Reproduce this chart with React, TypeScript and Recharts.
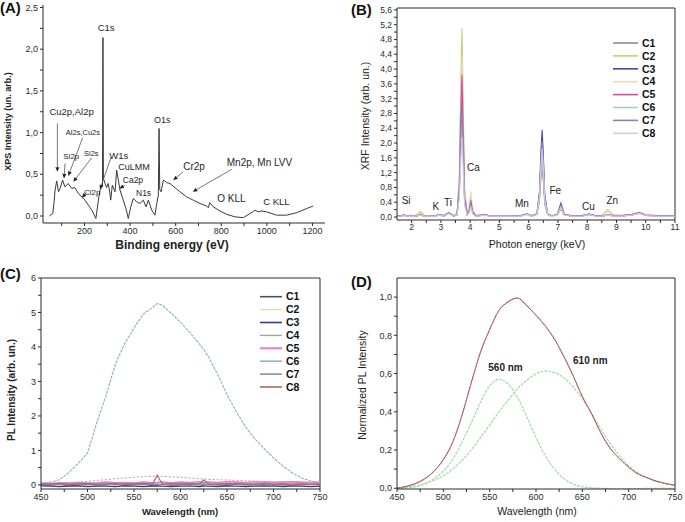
import React from 'react';
import { LineChart, Line, XAxis, YAxis, ReferenceLine, ReferenceDot } from 'recharts';

const FONT = '"Liberation Sans", Arial, Helvetica, sans-serif';
const INK = '#2b2b2b';

// ---------- (A) XPS survey ----------
const xpsEnergy = [
  46, 61, 66, 71, 78, 86, 93, 104, 114, 129, 144, 158, 173, 188, 202, 217, 232, 250, 261, 268,
  275, 279, 281, 283, 290, 297, 304, 310, 315, 322, 334, 341, 356, 370, 382, 392, 403, 414, 429, 443,
  458, 470, 480, 495, 509, 517, 524, 527, 530, 536, 546, 553, 560, 575, 597, 619, 648, 677, 707, 736,
  743, 750, 765, 794, 824, 860, 897, 926, 938, 948, 962, 977, 999, 1043, 1087, 1131, 1175, 1203,
];
const xpsIntensity = [
  0, 0.03, 0.15, 0.31, 0.42, 0.29, 0.33, 0.43, 0.35, 0.39, 0.33, 0.34, 0.27, 0.23, 0.19, 0.13, 0.07, -0.03, 0.19, 0.31,
  0.34, 0.36, 2.14, 0.45, 0.39, 0.34, 0.39, 0.3, 0.19, 0.37, 0.29, 0.55, 0.31, 0.19, 0.09, -0.03, 0.11, 0.21, 0.17, 0.15,
  0.19, 0.11, 0.19, 0.07, 0.01, 0.15, 0.25, 1.05, 0.32, 0.29, 0.43, 0.42, 0.4, 0.39, 0.34, 0.29, 0.23, 0.19, 0.15, 0.12,
  0.1, 0.16, 0.11, 0.06, 0.02, -0.01, -0.02, 0.03, 0.05, 0.07, 0.05, 0.06, 0.05, 0.01, 0.01, 0.04, 0.09, 0.12,
];
const xpsXTicks = [100, 200, 300, 400, 500, 600, 700, 800, 900, 1000, 1100, 1200];
const xpsYTicks = [0, 0.25, 0.5, 0.75, 1, 1.25, 1.5, 1.75, 2, 2.25, 2.5];
const xpsLabels = [
  { text: 'C1s', x: 258, y: 2.22, size: 9.5 },
  { text: 'Cu2p,Al2p', x: 46, y: 1.21, size: 9.5 },
  { text: 'Al2s,Cu2s', x: 118, y: 0.97, size: 7.5 },
  { text: 'Si2p', x: 107, y: 0.68, size: 8 },
  { text: 'Si2s', x: 198, y: 0.72, size: 7.5 },
  { text: 'W1s', x: 309, y: 0.68, size: 9.5 },
  { text: 'CuLMM', x: 348, y: 0.556, size: 9 },
  { text: 'Cl2p', x: 198, y: 0.25, size: 8 },
  { text: 'Ca2p', x: 368, y: 0.395, size: 8.5 },
  { text: 'N1s', x: 426, y: 0.24, size: 8.5 },
  { text: 'O1s', x: 505, y: 1.11, size: 9 },
  { text: 'Cr2p', x: 633, y: 0.55, size: 10 },
  { text: 'Mn2p, Mn LVV', x: 824, y: 0.6, size: 10 },
  { text: 'O KLL', x: 782, y: 0.17, size: 10 },
  { text: 'C KLL', x: 984, y: 0.13, size: 9.5 },
];
const xpsArrows = [
  { from: [81, 1.11], to: [81, 0.53] },
  { from: [192, 0.94], to: [129, 0.48] },
  { from: [115, 0.63], to: [110, 0.45] },
  { from: [232, 0.7], to: [151, 0.41] },
  { from: [210, 0.28], to: [188, 0.22] },
  { from: [316, 0.7], to: [268, 0.32] },
  { from: [378, 0.37], to: [353, 0.33] },
  { from: [633, 0.53], to: [589, 0.43] },
  { from: [846, 0.56], to: [675, 0.29] },
];

// ---------- (B) XRF ----------
const xrfEnergy = [
  1.5, 1.6, 1.73, 1.85, 1.95, 2.1, 2.31, 2.45, 2.6, 2.8,
  2.96, 3.1, 3.27, 3.42, 3.55, 3.63, 3.68, 3.72, 3.76, 3.81,
  3.9, 3.96, 4.02, 4.09, 4.2, 4.5, 4.7, 5.0, 5.4, 5.7,
  5.94, 6.1, 6.28, 6.37, 6.42, 6.46, 6.5, 6.55, 6.65, 6.8,
  6.98, 7.1, 7.22, 7.5, 7.8, 8.07, 8.3, 8.5, 8.7, 8.9,
  9.2, 9.5, 9.78, 10.0, 10.4, 11.0,
];
const xrfC1 = [
  0.03, 0.03, 0.06, 0.03, 0.05, 0.03, 0.06, 0.03, 0.02, 0.03,
  0.07, 0.03, 0.12, 0.04, 0.06, 0.9, 3.0, 4.1, 2.6, 0.6,
  0.08, 0.15, 0.4, 0.12, 0.03, 0.07, 0.02, 0.02, 0.02, 0.03,
  0.08, 0.03, 0.08, 0.6, 1.5, 1.95, 1.4, 0.5, 0.07, 0.03,
  0.07, 0.3, 0.06, 0.03, 0.03, 0.08, 0.03, 0.03, 0.05, 0.04,
  0.04, 0.06, 0.12, 0.05, 0.03, 0.03,
];
const xrfC2 = [
  0.04, 0.03, 0.05, 0.03, 0.04, 0.03, 0.15, 0.04, 0.03, 0.03,
  0.06, 0.04, 0.1, 0.04, 0.07, 1.1, 3.7, 5.1, 3.2, 0.75,
  0.09, 0.2, 0.55, 0.15, 0.04, 0.06, 0.03, 0.02, 0.02, 0.03,
  0.07, 0.03, 0.07, 0.5, 1.25, 1.6, 1.15, 0.4, 0.06, 0.03,
  0.06, 0.25, 0.05, 0.03, 0.03, 0.07, 0.04, 0.05, 0.2, 0.05,
  0.04, 0.06, 0.13, 0.05, 0.03, 0.03,
];
const xrfC3 = [
  0.02, 0.02, 0.05, 0.02, 0.04, 0.02, 0.05, 0.02, 0.02, 0.02,
  0.06, 0.02, 0.11, 0.03, 0.05, 0.7, 2.3, 3.2, 2.0, 0.5,
  0.06, 0.13, 0.35, 0.1, 0.02, 0.06, 0.02, 0.02, 0.02, 0.02,
  0.08, 0.02, 0.09, 0.7, 1.8, 2.35, 1.7, 0.6, 0.08, 0.03,
  0.08, 0.38, 0.07, 0.02, 0.02, 0.07, 0.03, 0.03, 0.05, 0.03,
  0.03, 0.05, 0.11, 0.04, 0.03, 0.02,
];
const xrfC4 = [
  0.03, 0.03, 0.05, 0.03, 0.04, 0.03, 0.1, 0.03, 0.03, 0.03,
  0.07, 0.03, 0.13, 0.04, 0.06, 0.95, 3.2, 4.35, 2.8, 0.65,
  0.1, 0.25, 0.7, 0.2, 0.04, 0.08, 0.03, 0.03, 0.02, 0.03,
  0.08, 0.03, 0.08, 0.55, 1.35, 1.75, 1.25, 0.45, 0.07, 0.03,
  0.07, 0.28, 0.06, 0.03, 0.03, 0.08, 0.03, 0.04, 0.15, 0.05,
  0.04, 0.06, 0.14, 0.05, 0.03, 0.03,
];
const xrfC5 = [
  0.03, 0.04, 0.05, 0.03, 0.05, 0.03, 0.06, 0.03, 0.03, 0.04,
  0.06, 0.04, 0.11, 0.04, 0.06, 0.85, 2.8, 3.85, 2.4, 0.55,
  0.08, 0.17, 0.45, 0.13, 0.04, 0.07, 0.03, 0.03, 0.03, 0.04,
  0.09, 0.04, 0.08, 0.45, 1.1, 1.4, 1.0, 0.35, 0.07, 0.04,
  0.06, 0.22, 0.06, 0.04, 0.04, 0.08, 0.04, 0.04, 0.06, 0.05,
  0.05, 0.07, 0.12, 0.06, 0.04, 0.04,
];
const xrfC6 = [
  0.02, 0.02, 0.04, 0.02, 0.03, 0.02, 0.05, 0.02, 0.02, 0.02,
  0.05, 0.02, 0.1, 0.03, 0.05, 0.6, 1.95, 2.7, 1.7, 0.4,
  0.06, 0.12, 0.3, 0.09, 0.02, 0.05, 0.02, 0.02, 0.02, 0.02,
  0.07, 0.02, 0.07, 0.5, 1.15, 1.5, 1.1, 0.38, 0.06, 0.02,
  0.06, 0.24, 0.05, 0.02, 0.02, 0.06, 0.02, 0.03, 0.05, 0.03,
  0.03, 0.05, 0.1, 0.04, 0.02, 0.02,
];
const xrfC7 = [
  0.03, 0.02, 0.05, 0.02, 0.04, 0.02, 0.05, 0.03, 0.02, 0.03,
  0.06, 0.03, 0.12, 0.03, 0.05, 0.65, 2.15, 3.0, 1.9, 0.45,
  0.07, 0.14, 0.38, 0.11, 0.03, 0.06, 0.02, 0.02, 0.02, 0.03,
  0.08, 0.03, 0.08, 0.6, 1.55, 2.05, 1.5, 0.52, 0.07, 0.03,
  0.07, 0.32, 0.06, 0.03, 0.03, 0.08, 0.03, 0.03, 0.05, 0.04,
  0.04, 0.05, 0.11, 0.05, 0.03, 0.03,
];
const xrfC8 = [
  0.02, 0.02, 0.04, 0.02, 0.03, 0.02, 0.05, 0.02, 0.02, 0.02,
  0.05, 0.02, 0.09, 0.03, 0.04, 0.5, 1.55, 2.15, 1.35, 0.32,
  0.05, 0.11, 0.28, 0.08, 0.02, 0.05, 0.02, 0.02, 0.02, 0.02,
  0.07, 0.02, 0.07, 0.55, 1.4, 1.85, 1.35, 0.47, 0.06, 0.02,
  0.06, 0.27, 0.05, 0.02, 0.02, 0.07, 0.02, 0.03, 0.05, 0.03,
  0.03, 0.05, 0.1, 0.04, 0.02, 0.02,
];
const xrfSeries = [
  { key: 'C1', values: xrfC1, color: '#8c8c8c' },
  { key: 'C2', values: xrfC2, color: '#c8cc78' },
  { key: 'C3', values: xrfC3, color: '#4a4a98' },
  { key: 'C4', values: xrfC4, color: '#e6deb0' },
  { key: 'C5', values: xrfC5, color: '#d84aa8' },
  { key: 'C6', values: xrfC6, color: '#a8d0b8' },
  { key: 'C7', values: xrfC7, color: '#8a84aa' },
  { key: 'C8', values: xrfC8, color: '#d2c8ec' },
];
const xrfXTicks = [2, 2.5, 3, 3.5, 4, 4.5, 5, 5.5, 6, 6.5, 7, 7.5, 8, 8.5, 9, 9.5, 10, 10.5, 11];
const xrfYTicks = [0, 0.2, 0.4, 0.6, 0.8, 1, 1.2, 1.4, 1.6, 1.8, 2, 2.2, 2.4, 2.6, 2.8, 3, 3.2, 3.4, 3.6, 3.8, 4, 4.2, 4.4, 4.6, 4.8, 5, 5.2, 5.4, 5.6];
const xrfLabels = [
  { text: 'Si', x: 1.66, y: 0.35 },
  { text: 'K', x: 2.71, y: 0.19 },
  { text: 'Ti', x: 3.11, y: 0.31 },
  { text: 'Ca', x: 3.89, y: 1.25 },
  { text: 'Mn', x: 5.53, y: 0.28 },
  { text: 'Fe', x: 6.71, y: 0.62 },
  { text: 'Cu', x: 7.82, y: 0.19 },
  { text: 'Zn', x: 8.66, y: 0.35 },
];

// ---------- (C) PL spectra ----------
const plWavelength = [450, 460, 470, 480, 490, 500, 510, 520, 530, 540, 550, 560, 570, 575, 580, 590, 600, 610, 620, 625, 630, 640, 650, 660, 670, 680, 690, 700, 710, 720, 730, 740, 750];
const plC1 = [0, -0.01, 0.01, -0.02, 0, 0.01, -0.01, 0, 0.02, -0.01, 0, 0.01, -0.02, 0, 0.01, -0.01, 0, 0.02, 0, -0.01, 0.01, 0, -0.01, 0.01, 0, 0, -0.01, 0.01, 0, -0.01, 0, 0.01, 0];
const plC2 = [0.03, 0.05, 0.02, 0.04, 0.03, 0.05, 0.04, 0.02, 0.04, 0.05, 0.03, 0.04, 0.05, 0.03, 0.04, 0.05, 0.03, 0.04, 0.02, 0.05, 0.04, 0.03, 0.05, 0.04, 0.03, 0.04, 0.03, 0.05, 0.04, 0.03, 0.04, 0.03, 0.04];
const plC3 = [-0.03, -0.04, -0.05, -0.04, -0.03, -0.05, -0.04, -0.04, -0.05, -0.03, -0.04, -0.05, -0.04, -0.03, -0.04, -0.05, -0.04, -0.03, -0.05, -0.04, -0.04, -0.05, -0.03, -0.04, -0.05, -0.04, -0.04, -0.03, -0.05, -0.04, -0.04, -0.05, -0.04];
const plC4 = [0.02, 0.03, 0.04, 0.06, 0.08, 0.1, 0.13, 0.15, 0.18, 0.2, 0.22, 0.24, 0.25, 0.25, 0.25, 0.23, 0.22, 0.2, 0.18, 0.17, 0.16, 0.15, 0.14, 0.13, 0.12, 0.11, 0.1, 0.09, 0.08, 0.07, 0.07, 0.06, 0.05];
const plC5 = [0.05, 0.04, 0.06, 0.05, 0.07, 0.05, 0.06, 0.08, 0.06, 0.07, 0.05, 0.08, 0.06, 0.07, 0.09, 0.06, 0.08, 0.07, 0.09, 0.06, 0.08, 0.07, 0.09, 0.08, 0.07, 0.09, 0.08, 0.07, 0.08, 0.09, 0.08, 0.07, 0.08];
const plC6 = [0.03, 0.08, 0.15, 0.36, 0.62, 0.92, 1.8, 2.6, 3.5, 4.1, 4.55, 4.95, 5.15, 5.26, 5.22, 4.98, 4.72, 4.42, 4.1, 3.92, 3.72, 3.2, 2.62, 2.12, 1.68, 1.33, 1.05, 0.78, 0.55, 0.35, 0.2, 0.11, 0.06];
const plC7 = [0.02, 0.01, 0.03, 0, 0.02, 0.03, 0.01, 0.02, 0, 0.03, 0.02, 0.01, 0.03, 0.02, 0, 0.02, 0.03, 0.01, 0.02, 0.03, 0, 0.02, 0.01, 0.03, 0.02, 0.01, 0.02, 0, 0.02, 0.01, 0.02, 0.01, 0.02];
const plC8 = [0.03, 0.02, 0.04, 0.02, 0.03, 0.04, 0.02, 0.03, 0.04, 0.02, 0.03, 0.04, 0.03, 0.28, 0.04, 0.03, 0.02, 0.04, 0.03, 0.14, 0.03, 0.02, 0.04, 0.03, 0.02, 0.03, 0.04, 0.02, 0.03, 0.02, 0.03, 0.02, 0.03];
const plSeries = [
  { key: 'C1', values: plC1, color: '#505050', width: 1.2 },
  { key: 'C2', values: plC2, color: '#e4dca8', width: 1 },
  { key: 'C3', values: plC3, color: '#3a3a8a', width: 1.2 },
  { key: 'C4', values: plC4, color: '#a3a3a3', width: 1, dash: '2 2' },
  { key: 'C5', values: plC5, color: '#e27ad2', width: 1.6 },
  { key: 'C6', values: plC6, color: '#86b8aa', width: 1.1, dash: '3 1' },
  { key: 'C7', values: plC7, color: '#8090b8', width: 1.2 },
  { key: 'C8', values: plC8, color: '#b0665e', width: 1.2 },
];
const plXTicks = [450, 475, 500, 525, 550, 575, 600, 625, 650, 675, 700, 725, 750];
const plYTicks = [0, 0.5, 1, 1.5, 2, 2.5, 3, 3.5, 4, 4.5, 5, 5.5, 6];

// ---------- (D) normalized PL with two components ----------
const fitWavelength = [450, 460, 470, 480, 490, 500, 510, 520, 530, 540, 550, 560, 570, 580, 590, 600, 610, 620, 630, 640, 650, 660, 670, 680, 690, 700, 710, 720, 730, 740, 750];
const fitMeasured = [0, 0.01, 0.025, 0.05, 0.09, 0.15, 0.24, 0.38, 0.55, 0.71, 0.83, 0.93, 0.975, 0.995, 0.955, 0.905, 0.85, 0.78, 0.69, 0.59, 0.48, 0.39, 0.29, 0.21, 0.155, 0.11, 0.075, 0.055, 0.037, 0.025, 0.015];
const fitTotal = [0, 0.008, 0.022, 0.048, 0.088, 0.148, 0.238, 0.378, 0.548, 0.71, 0.832, 0.93, 0.978, 0.996, 0.958, 0.905, 0.848, 0.778, 0.69, 0.588, 0.478, 0.388, 0.288, 0.208, 0.155, 0.11, 0.076, 0.055, 0.036, 0.024, 0.014];
const fit560 = [0, 0.002, 0.008, 0.022, 0.05, 0.09, 0.15, 0.24, 0.34, 0.45, 0.535, 0.57, 0.545, 0.475, 0.375, 0.265, 0.17, 0.1, 0.05, 0.022, 0.008, 0.002, 0, -0.002, -0.003, -0.003, -0.002, 0, 0, 0, 0];
const fit610 = [0, 0.005, 0.012, 0.025, 0.042, 0.065, 0.1, 0.145, 0.2, 0.265, 0.33, 0.4, 0.46, 0.52, 0.565, 0.598, 0.613, 0.605, 0.578, 0.53, 0.468, 0.39, 0.31, 0.235, 0.17, 0.118, 0.08, 0.055, 0.036, 0.023, 0.014];
const fitYTicks = [0, 0.1, 0.2, 0.3, 0.4, 0.5, 0.6, 0.7, 0.8, 0.9, 1.0];
const fitLabels = [
  { text: '560 nm', x: 548.5, y: 0.614 },
  { text: '610 nm', x: 640, y: 0.649 },
];

const comma = (v: number) => v.toFixed(1).replace('.', ',');
const onStep = (v: number, step: number) => Math.abs(v / step - Math.round(v / step)) < 1e-6;

const xpsRows = xpsEnergy.map((x, i) => ({ x, y: xpsIntensity[i] }));
const xrfRows = xrfEnergy.map((x, i) => {
  const r: any = { x };
  xrfSeries.forEach((s) => (r[s.key] = s.values[i]));
  return r;
});
const plRows = plWavelength.map((x, i) => {
  const r: any = { x };
  plSeries.forEach((s) => (r[s.key] = s.values[i]));
  return r;
});
const fitRows = fitWavelength.map((x, i) => ({
  x, measured: fitMeasured[i], total: fitTotal[i], c560: fit560[i], c610: fit610[i],
}));

const tickStyle = (size: number) => ({ fontSize: size, fill: INK, fontFamily: FONT });
const axisLine = { stroke: INK, strokeWidth: 1 };

const Arrow = (p: any) => {
  const { x1, y1, x2, y2 } = p;
  const a = Math.atan2(y2 - y1, x2 - x1);
  const L = 4.5, W = 2;
  const bx = x2 - L * Math.cos(a);
  const by = y2 - L * Math.sin(a);
  const pts = `${x2},${y2} ${bx - W * Math.sin(a)},${by + W * Math.cos(a)} ${bx + W * Math.sin(a)},${by - W * Math.cos(a)}`;
  return (
    <g>
      <line x1={x1} y1={y1} x2={bx} y2={by} stroke="#555" strokeWidth={0.8} />
      <polygon points={pts} fill="#222" />
    </g>
  );
};

const textShape = (text: string, size: number, weight = 'normal') => (p: any) => (
  <text x={p.cx} y={p.cy} fontSize={size} fontWeight={weight} fill="#1e1e1e" fontFamily={FONT}>{text}</text>
);

function KeyBlock({ items, x, y, step, len }: any) {
  return (
    <g>
      {items.map((s: any, i: number) => (
        <g key={s.key}>
          <line x1={x} x2={x + len} y1={y + i * step} y2={y + i * step} stroke={s.color} strokeWidth={s.width ? s.width + 0.4 : 1.6} />
          <text x={x + len + 4} y={y + i * step + 3.7} fontSize={10.5} fontWeight="bold" fill="#111" fontFamily={FONT}>{s.key}</text>
        </g>
      ))}
    </g>
  );
}

const box = (left: number, top: number): React.CSSProperties => ({ position: 'absolute', left, top });

export default function App() {
  return (
    <div style={{ position: 'absolute', left: 0, top: 0, width: 685, height: 522, background: '#fff', fontFamily: FONT }}>
      {/* (A) */}
      <div style={box(0, 0)}>
        <LineChart width={340} height={260} data={xpsRows} margin={{ top: 5, right: 15, bottom: 12, left: 13 }}>
          <XAxis dataKey="x" type="number" domain={[18, 1255]} allowDataOverflow ticks={xpsXTicks} interval={0}
            tickFormatter={(v) => (v % 200 === 0 ? String(v) : '')} tick={tickStyle(9)} tickSize={3} tickMargin={2}
            axisLine={axisLine} tickLine={axisLine} height={25} />
          <YAxis type="number" domain={[-0.084, 2.53]} allowDataOverflow ticks={xpsYTicks} interval={0}
            tickFormatter={(v) => (onStep(v, 0.5) ? comma(v) : '')} tick={tickStyle(9)} tickSize={3} tickMargin={2}
            axisLine={axisLine} tickLine={axisLine} width={30} />
          <Line dataKey="y" type="linear" dot={false} stroke="#3a3a3a" strokeWidth={1} isAnimationActive={false} />
          {xpsArrows.map((a, i) => (
            <ReferenceLine key={'a' + i} segment={[{ x: a.from[0], y: a.from[1] }, { x: a.to[0], y: a.to[1] }]}
              ifOverflow="visible" shape={Arrow} />
          ))}
          {xpsLabels.map((l) => (
            <ReferenceDot key={l.text} x={l.x} y={l.y} r={0} ifOverflow="visible" shape={textShape(l.text, l.size)} />
          ))}
        </LineChart>
      </div>

      {/* (B) */}
      <div style={box(340, 0)}>
        <LineChart width={345} height={260} data={xrfRows} margin={{ top: 8, right: 10, bottom: 18, left: 25 }}>
          <XAxis dataKey="x" type="number" domain={[1.5, 11]} allowDataOverflow ticks={xrfXTicks} interval={0}
            tickFormatter={(v) => (onStep(v, 1) ? String(v) : '')} tick={tickStyle(8.5)} tickSize={3} tickMargin={1}
            axisLine={axisLine} tickLine={axisLine} height={22} />
          <YAxis type="number" domain={[-0.08, 5.65]} allowDataOverflow ticks={xrfYTicks} interval={0}
            tickFormatter={(v) => (onStep(v, 0.4) ? comma(v) : '')} tick={tickStyle(8.5)} tickSize={3} tickMargin={2}
            axisLine={axisLine} tickLine={axisLine} width={32} />
          <ReferenceLine y={5.65} stroke={INK} ifOverflow="visible" />
          <ReferenceLine x={11} stroke={INK} ifOverflow="visible" />
          {xrfSeries.map((s) => (
            <Line key={s.key} dataKey={s.key} type="linear" dot={false} stroke={s.color} strokeWidth={1.1} isAnimationActive={false} />
          ))}
          {xrfLabels.map((l) => (
            <ReferenceDot key={l.text} x={l.x} y={l.y} r={0} ifOverflow="visible" shape={textShape(l.text, 10)} />
          ))}
        </LineChart>
      </div>

      {/* (C) */}
      <div style={box(0, 260)}>
        <LineChart width={340} height={262} data={plRows} margin={{ top: 18, right: 20, bottom: 13, left: 19 }}>
          <XAxis dataKey="x" type="number" domain={[450, 750]} allowDataOverflow ticks={plXTicks} interval={0}
            tickFormatter={(v) => (onStep(v, 50) ? String(v) : '')} tick={tickStyle(9)} tickSize={3} tickMargin={2}
            axisLine={axisLine} tickLine={axisLine} height={20} />
          <YAxis type="number" domain={[-0.12, 6]} allowDataOverflow ticks={plYTicks} interval={0}
            tickFormatter={(v) => (onStep(v, 1) ? String(v) : '')} tick={tickStyle(9)} tickSize={3} tickMargin={2}
            axisLine={axisLine} tickLine={axisLine} width={22} />
          <ReferenceLine y={6} stroke={INK} ifOverflow="visible" />
          <ReferenceLine x={750} stroke={INK} ifOverflow="visible" />
          {plSeries.map((s) => (
            <Line key={s.key} dataKey={s.key} type="linear" dot={false} stroke={s.color} strokeWidth={s.width}
              strokeDasharray={s.dash} isAnimationActive={false} />
          ))}
        </LineChart>
      </div>

      {/* (D) */}
      <div style={box(340, 260)}>
        <LineChart width={345} height={262} data={fitRows} margin={{ top: 18, right: 10, bottom: 13, left: 32 }}>
          <XAxis dataKey="x" type="number" domain={[450, 750]} allowDataOverflow ticks={plXTicks} interval={0}
            tickFormatter={(v) => (onStep(v, 50) ? String(v) : '')} tick={tickStyle(9)} tickSize={3} tickMargin={2}
            axisLine={axisLine} tickLine={axisLine} height={20} />
          <YAxis type="number" domain={[-0.004, 1.1]} allowDataOverflow ticks={fitYTicks} interval={0}
            tickFormatter={(v) => (onStep(v, 0.2) ? comma(v) : '')} tick={tickStyle(9)} tickSize={3} tickMargin={2}
            axisLine={axisLine} tickLine={axisLine} width={25} />
          <ReferenceLine y={1.1} stroke={INK} ifOverflow="visible" />
          <ReferenceLine x={750} stroke={INK} ifOverflow="visible" />
          <Line dataKey="c560" type="monotone" dot={false} stroke="#96de96" strokeWidth={1.1} strokeDasharray="3 1" isAnimationActive={false} />
          <Line dataKey="c610" type="monotone" dot={false} stroke="#96de96" strokeWidth={1.1} strokeDasharray="3 1" isAnimationActive={false} />
          <Line dataKey="measured" type="monotone" dot={false} stroke="#6a3a3e" strokeWidth={0.9} isAnimationActive={false} />
          <Line dataKey="total" type="monotone" dot={false} stroke="#e0708a" strokeWidth={1} strokeDasharray="2 1" isAnimationActive={false} />
          {fitLabels.map((l) => (
            <ReferenceDot key={l.text} x={l.x} y={l.y} r={0} ifOverflow="visible" shape={textShape(l.text, 10, 'bold')} />
          ))}
        </LineChart>
      </div>

      {/* panel letters, axis titles and keys */}
      <svg width={685} height={522} style={{ position: 'absolute', left: 0, top: 0, pointerEvents: 'none' }} fontFamily={FONT}>
        <g fontSize={15} fontWeight="bold" fill="#111">
          <text x={0} y={13}>(A)</text>
          <text x={351} y={15}>(B)</text>
          <text x={0} y={279}>(C)</text>
          <text x={351} y={287}>(D)</text>
        </g>
        <text x={172} y={249} fontSize={12} fontWeight="bold" textAnchor="middle" fill="#222">Binding energy (eV)</text>
        <text transform="translate(10.5,121.5) rotate(-90)" fontSize={9} fontWeight="bold" textAnchor="middle" fill="#222">XPS Intensity (un. arb.)</text>
        <text x={537} y={248} fontSize={10.5} textAnchor="middle" fill="#222">Photon energy (keV)</text>
        <text transform="translate(368.5,116) rotate(-90)" fontSize={10.5} textAnchor="middle" fill="#222">XRF Intensity (arb. un.)</text>
        <text x={180} y={514.5} fontSize={9.5} fontWeight="bold" textAnchor="middle" fill="#222">Wavelength (nm)</text>
        <text transform="translate(15,390) rotate(-90)" fontSize={10} fontWeight="bold" textAnchor="middle" fill="#222">PL Intensity (arb. un.)</text>
        <text x={537} y={514.5} fontSize={10.5} textAnchor="middle" fill="#222">Wavelength (nm)</text>
        <text transform="translate(366,385) rotate(-90)" fontSize={10.4} textAnchor="middle" fill="#222">Normalized PL Intensity</text>
        <KeyBlock items={xrfSeries} x={613} y={43} step={12.9} len={25} />
        <KeyBlock items={plSeries} x={260} y={296.7} step={12.9} len={22} />
      </svg>
    </div>
  );
}
